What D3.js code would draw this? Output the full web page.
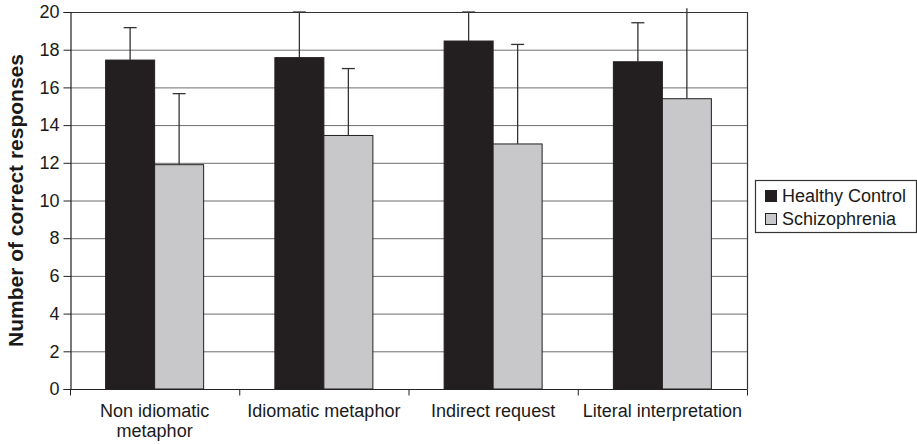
<!DOCTYPE html>
<html>
<head>
<meta charset="utf-8">
<script src="https://cdn.jsdelivr.net/npm/d3@7"></script>
<style>
  html, body { margin: 0; padding: 0; background: #fff; }
  svg { display: block; font-family: Arial, "Liberation Sans", Helvetica, sans-serif; }
</style>
</head>
<body>
<svg id="chart" width="917" height="444"></svg>
<script>
const categories = ["Non idiomatic\nmetaphor", "Idiomatic metaphor", "Indirect request", "Literal interpretation"];
const seriesNames = ["Healthy Control", "Schizophrenia"];
const healthyValues = [17.45, 17.58, 18.46, 17.36];
const healthyErrors = [1.72, 2.42, 1.54, 2.07];
const schizoValues = [11.9, 13.45, 13.0, 15.4];
const schizoErrors = [3.77, 3.55, 5.28, 4.8];
const yTicks = [0, 2, 4, 6, 8, 10, 12, 14, 16, 18, 20];
const colors = ["#231f20", "#c8c8ca"];

const svg = d3.select("#chart");
const x0 = 70, x1e = 747, yTop = 12, yBot = 389;

const x = d3.scaleBand().domain(categories).range([x0, x1e]).paddingInner(0).paddingOuter(0);
const xs = d3.scaleBand().domain(seriesNames).range([0, x.bandwidth()]).paddingInner(0).paddingOuter(0.727);
const y = d3.scaleLinear().domain([0, 20]).range([yBot, yTop]);

const data = categories.map((c, i) => ({
  cat: c,
  vals: [
    { s: seriesNames[0], v: healthyValues[i], e: healthyErrors[i], k: 0 },
    { s: seriesNames[1], v: schizoValues[i], e: schizoErrors[i], k: 1 }
  ]
}));

// gridlines
svg.append("g").selectAll("line").data(yTicks.filter(t => t > 0 && t < 20)).join("line")
  .attr("x1", x0).attr("x2", x1e)
  .attr("y1", d => y(d) + 0.5).attr("y2", d => y(d) + 0.5)
  .attr("stroke", "#6d6d6d").attr("stroke-width", 1);

// plot border top/right
svg.append("line").attr("x1", x0).attr("x2", x1e + 0.5).attr("y1", y(20) + 0.5).attr("y2", y(20) + 0.5)
  .attr("stroke", "#333").attr("stroke-width", 1.2);
svg.append("line").attr("x1", x1e + 0.5).attr("x2", x1e + 0.5).attr("y1", y(20)).attr("y2", y(0))
  .attr("stroke", "#333").attr("stroke-width", 1.2);

// bars
const groups = svg.append("g").selectAll("g").data(data).join("g")
  .attr("transform", d => `translate(${x(d.cat)},0)`);

groups.selectAll("rect").data(d => d.vals).join("rect")
  .attr("x", d => xs(d.s))
  .attr("y", d => y(d.v))
  .attr("width", xs.bandwidth())
  .attr("height", d => y(0) - y(d.v))
  .attr("fill", d => colors[d.k])
  .attr("stroke", "#231f20").attr("stroke-width", 1);

// error bars (upper only)
const eb = groups.selectAll("g.err").data(d => d.vals).join("g").attr("class", "err");
eb.append("line")
  .attr("x1", d => xs(d.s) + xs.bandwidth() / 2).attr("x2", d => xs(d.s) + xs.bandwidth() / 2)
  .attr("y1", d => y(d.v)).attr("y2", d => y(Math.min(d.v + d.e, 20.2)))
  .attr("stroke", "#333").attr("stroke-width", 1.3);
eb.filter(d => d.v + d.e <= 20.05).append("line")
  .attr("x1", d => xs(d.s) + xs.bandwidth() / 2 - 6.5).attr("x2", d => xs(d.s) + xs.bandwidth() / 2 + 6.5)
  .attr("y1", d => y(d.v + d.e)).attr("y2", d => y(d.v + d.e))
  .attr("stroke", "#333").attr("stroke-width", 1.3);

// y axis
const yAxis = svg.append("g").attr("transform", `translate(${x0 + 0.5},0)`)
  .call(d3.axisLeft(y).tickValues(yTicks).tickSize(7).tickPadding(4).tickFormat(d3.format("d")));
yAxis.select(".domain").attr("stroke", "#222").attr("stroke-width", 1.2);
yAxis.selectAll(".tick line").attr("stroke", "#222");
yAxis.selectAll("text").attr("font-size", 18).attr("fill", "#1a1a1a")
  .attr("font-family", "Arial, 'Liberation Sans', sans-serif");

// x axis
const xAxis = svg.append("g").attr("transform", `translate(0,${yBot + 0.5})`);
xAxis.append("line").attr("x1", x0).attr("x2", x1e + 0.5).attr("y1", 0).attr("y2", 0)
  .attr("stroke", "#222").attr("stroke-width", 1.2);
const bounds = categories.map(c => x(c)).concat([x1e]);
xAxis.selectAll("line.tk").data(bounds).join("line").attr("class", "tk")
  .attr("x1", d => d + 0.5).attr("x2", d => d + 0.5).attr("y1", 0).attr("y2", 6)
  .attr("stroke", "#222");
const xl = xAxis.selectAll("text").data(categories).join("text")
  .attr("x", d => x(d) + x.bandwidth() / 2)
  .attr("y", 27)
  .attr("text-anchor", "middle")
  .attr("font-size", 18).attr("fill", "#1a1a1a");
xl.each(function (d) {
  const lines = d.split("\n");
  d3.select(this).selectAll("tspan").data(lines).join("tspan")
    .attr("x", x(d) + x.bandwidth() / 2)
    .attr("dy", (l, i) => i === 0 ? 0 : 20)
    .text(l => l);
});

// y title
svg.append("text")
  .attr("transform", `translate(23,${(yTop + yBot) / 2}) rotate(-90)`)
  .attr("text-anchor", "middle")
  .attr("font-size", 21).attr("font-weight", "bold").attr("fill", "#1a1a1a")
  .text("Number of correct responses");

// legend
const lg = svg.append("g");
lg.append("rect").attr("x", 755.5).attr("y", 180.5).attr("width", 161).attr("height", 52)
  .attr("fill", "#fff").attr("stroke", "#333").attr("stroke-width", 1.2);
const li = lg.selectAll("g").data(seriesNames).join("g")
  .attr("transform", (d, i) => `translate(765,${190 + i * 23})`);
li.append("rect").attr("x", 0.5).attr("y", 0.5).attr("width", 11).attr("height", 11)
  .attr("fill", (d, i) => colors[i]).attr("stroke", "#231f20");
li.append("text").attr("x", 17).attr("y", 12).attr("font-size", 18).attr("fill", "#1a1a1a")
  .text(d => d);
</script>
</body>
</html>
